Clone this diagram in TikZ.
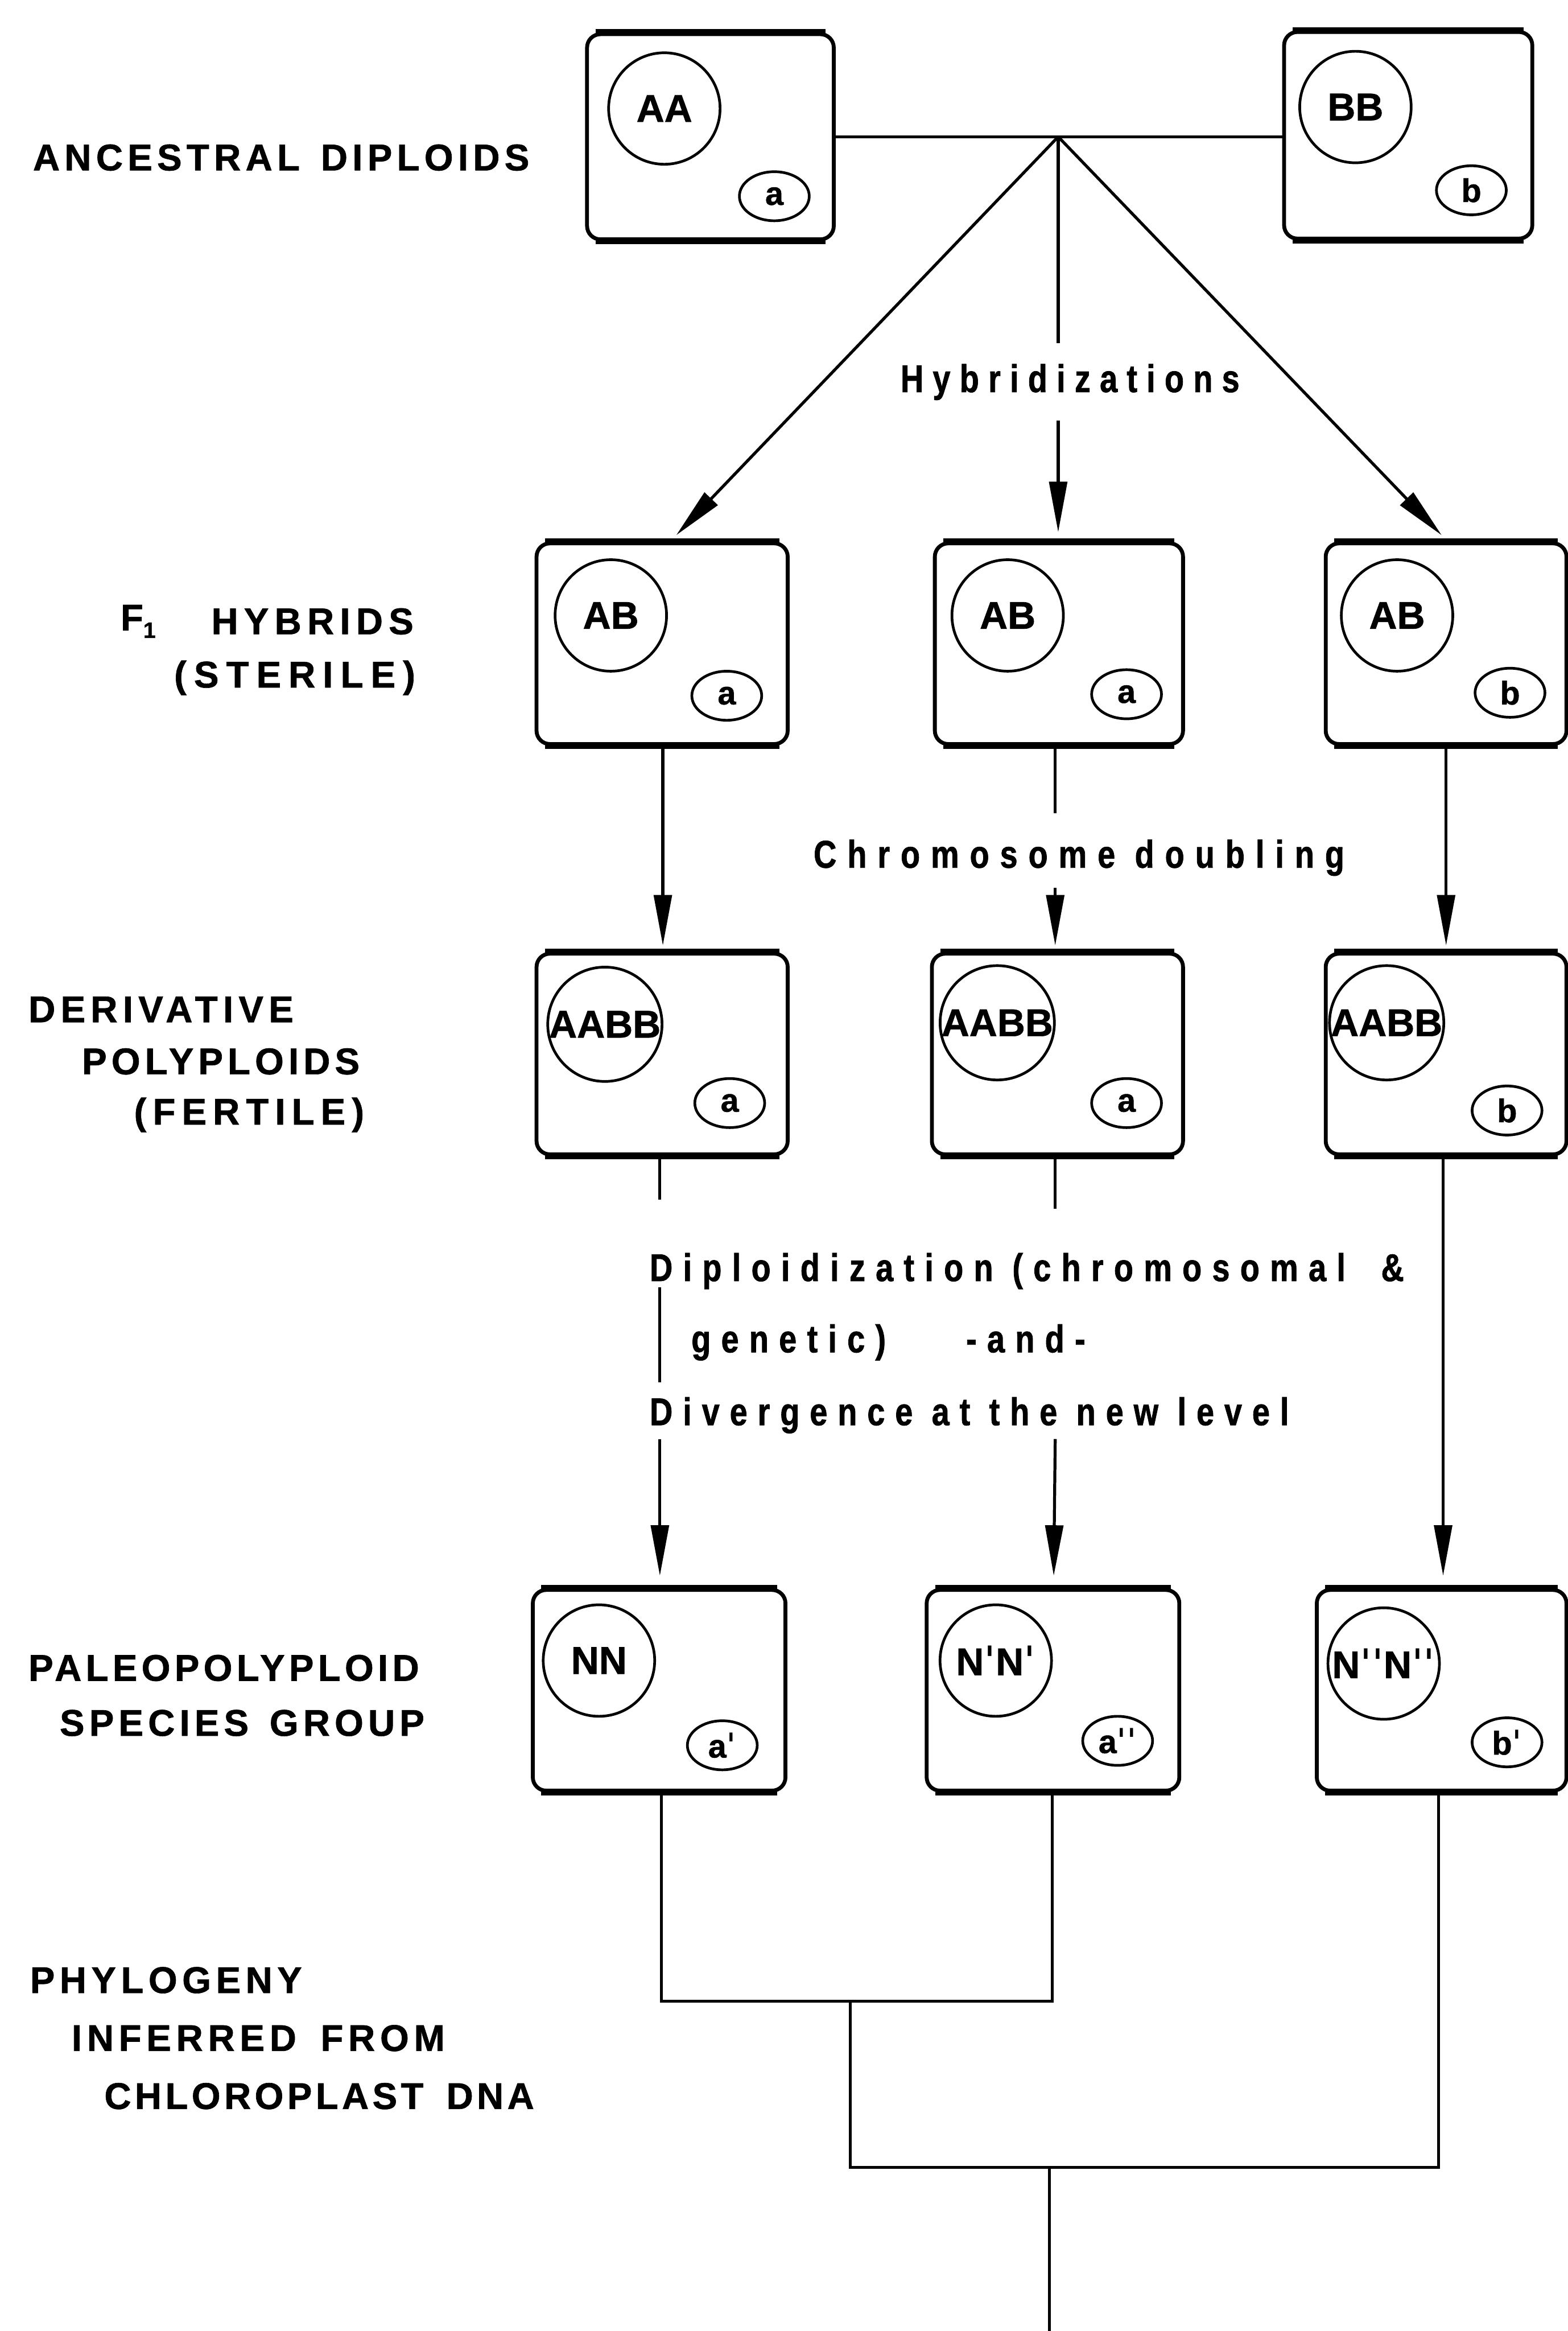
\documentclass[tikz,border=0pt]{standalone}
\usepackage{fontspec}
\setmainfont{Liberation Sans}
\newfontfamily\dvs{DejaVu Sans}
\usetikzlibrary{arrows.meta,shapes.geometric}
\newcommand\lab[2]{{\fontsize{25}{29}\selectfont\bfseries\addfontfeature{LetterSpace=#1,FakeBold=1}#2}}
\newcommand\proc[2]{{\fontsize{26}{30}\selectfont\bfseries\addfontfeature{FakeStretch=0.82,LetterSpace=#1,FakeBold=1.2}#2}}
\newcommand\boxtxt{\fontsize{26}{29}\selectfont\bfseries\addfontfeature{FakeBold=1}}
\newcommand\tagtxt{\fontsize{22}{24}\selectfont\bfseries\addfontfeature{FakeBold=1}}
\newcommand\pr{{\dvs\bfseries ˈ}}
\newcommand\ppr{{\dvs\bfseries ˈˈ}}
\begin{document}
\begin{tikzpicture}[x=1pt,y=-1pt,
  box/.style={draw,line width=2.6pt,rounded corners=9pt,inner sep=0pt,minimum height=135pt},
  bigc/.style={draw,circle,line width=1.8pt,minimum size=75pt,inner sep=0pt,font=\boxtxt},
  tagc/.style={draw,ellipse,line width=1.8pt,minimum width=47pt,minimum height=33pt,inner sep=0pt,font=\tagtxt},
  conn/.style={line width=2pt},
  arr/.style={line width=2pt,-{Triangle[length=34pt,width=12pt]}},
  lbl/.style={anchor=west,inner sep=0pt},
  ptx/.style={anchor=west,inner sep=0pt}]
\fill[white] (0,0) rectangle (1055,1568);
\path[use as bounding box] (0,0) rectangle (1055,1568);

% ---------- left labels
\node[lbl] (l1) at (22,106) {\lab{12.7}{ANCESTRAL\hspace{4pt} DIPLOIDS}};
\node[lbl] (l2a) at (81,418) {\lab{0}{F\raisebox{-5pt}{\fontsize{15}{15}\selectfont 1}}};
\node[lbl] (l2b) at (142,418) {\lab{15.7}{HYBRIDS}};
\node[lbl] (l2c) at (117,456) {\lab{20}{(STERILE)}};
\node[lbl] (l3a) at (19,679) {\lab{14.2}{DERIVATIVE}};
\node[lbl] (l3b) at (55,714) {\lab{12.4}{POLYPLOIDS}};
\node[lbl] (l3c) at (90,750) {\lab{17}{(FERTILE)}};
\node[lbl] (l4a) at (19,1122) {\lab{11.2}{PALEOPOLYPLOID}};
\node[lbl] (l4b) at (40,1159) {\lab{12.5}{SPECIES\hspace{4pt} GROUP}};
\node[lbl] (l5a) at (20,1332) {\lab{13}{PHYLOGENY}};
\node[lbl] (l5b) at (48,1371) {\lab{13.4}{INFERRED\hspace{6pt} FROM}};
\node[lbl] (l5c) at (70,1410) {\lab{9.8}{CHLOROPLAST\hspace{6pt} DNA}};

% ---------- row 1
\node[box,minimum width=166pt,minimum height=138pt] (A1) at (478,92) {};
\node[bigc] (A1c) at (447,73) {AA};
\node[tagc] (A1t) at (521,132) {a};
\node[box,minimum width=167pt,minimum height=139pt] (B1) at (947.5,91) {};
\node[bigc] (B1c) at (912,72) {BB};
\node[tagc] (B1t) at (990,128) {b};

% ---------- row 2
\node[box,minimum width=169pt] (F1) at (445.5,433) {};
\node[bigc] (F1c) at (411,414) {AB};
\node[tagc] (F1t) at (489,468) {a};
\node[box,minimum width=167pt] (F2) at (712.5,433) {};
\node[bigc] (F2c) at (678,414) {AB};
\node[tagc] (F2t) at (758,467) {a};
\node[box,minimum width=162pt] (F3) at (973,433) {};
\node[bigc] (F3c) at (940,414) {AB};
\node[tagc] (F3t) at (1016,466) {b};

% ---------- row 3
\node[box,minimum width=169pt] (D1) at (445.5,709) {};
\node[bigc] (D1c) at (407,689) {AABB};
\node[tagc] (D1t) at (491,742) {a};
\node[box,minimum width=169pt] (D2) at (711.5,709) {};
\node[bigc] (D2c) at (671,688) {AABB};
\node[tagc] (D2t) at (758,742) {a};
\node[box,minimum width=162pt] (D3) at (973,709) {};
\node[bigc] (D3c) at (933,688) {AABB};
\node[tagc] (D3t) at (1014,747) {b};

% ---------- row 4
\node[box,minimum width=170pt] (P1) at (443.5,1137) {};
\node[bigc] (P1c) at (403,1117) {NN};
\node[tagc] (P1t) at (486,1174) {a\pr};
\node[box,minimum width=170pt] (P2) at (708.5,1137) {};
\node[bigc] (P2c) at (670,1117) {N\pr N\pr};
\node[tagc] (P2t) at (752,1171) {a\ppr};
\node[box,minimum width=168pt] (P3) at (970,1137) {};
\node[bigc] (P3c) at (931,1119) {N\ppr N\ppr};
\node[tagc] (P3t) at (1014,1172) {b\pr};

% heavier top and bottom edges of the boxes
\foreach \b in {A1,B1,F1,F2,F3,D1,D2,D3,P1,P2,P3}{
  \draw[line width=4pt] ([xshift=7pt]\b.north west) -- ([xshift=-7pt]\b.north east);
  \draw[line width=4pt] ([xshift=7pt]\b.south west) -- ([xshift=-7pt]\b.south east);
}

% ---------- hybridizations
\coordinate (J) at (712,92);
\draw[conn] (A1.east |- J) -- (B1.west |- J);
\node (hyb) at (720,257) {\proc{24}{Hybridizations}};
\coordinate (h1) at (712,231);
\coordinate (h2) at (712,283);
\coordinate (t1) at (455,360);
\coordinate (t2) at (712,358);
\coordinate (t3) at (970,360);
\draw[arr] (J) -- (t1);
\draw[conn] (J) -- (h1);
\draw[arr] (h2) -- (t2);
\draw[arr] (J) -- (t3);

% ---------- chromosome doubling
\node (chd) at (726,577) {\proc{28}{Chromosome doubling}};
\coordinate (c1) at (446,636);
\coordinate (c2a) at (710,547);
\coordinate (c2b) at (710,597);
\coordinate (c2) at (710,636);
\coordinate (c3) at (973,636);
\draw[arr] (F1.south -| c1) -- (c1);
\draw[conn] (F2.south -| c2a) -- (c2a);
\draw[arr] (c2b) -- (c2);
\draw[arr] (F3.south -| c3) -- (c3);

% ---------- diploidization
\node[ptx] (dp1) at (437,855) {\proc{27}{Diploidization (chromosomal\hspace{24pt}\&}};
\node[ptx] (dp2) at (465,903) {\proc{27}{genetic)\hspace{54pt}-and-}};
\node[ptx] (dp3) at (437,952) {\proc{26.5}{Divergence at the new level}};
\coordinate (d1a) at (444,807);
\coordinate (d1b) at (444,866);
\coordinate (d1c) at (444,930);
\coordinate (d1d) at (444,968);
\coordinate (d1) at (444,1060);
\coordinate (d2a) at (710,813);
\coordinate (d2b) at (710,968);
\coordinate (d2) at (709,1060);
\coordinate (d3) at (971,1060);
\draw[conn] (D1.south -| d1a) -- (d1a);
\draw[conn] (d1b) -- (d1c);
\draw[arr] (d1d) -- (d1);
\draw[conn] (D2.south -| d2a) -- (d2a);
\draw[arr] (d2b) -- (d2);
\draw[arr] (D3.south -| d3) -- (d3);

% ---------- phylogeny tree
\coordinate (n1) at (445,1346);
\coordinate (n2) at (708,1346);
\coordinate (m1) at (572,1346);
\coordinate (m2) at (572,1458);
\coordinate (n3) at (968,1458);
\coordinate (r1) at (706,1458);
\coordinate (r2) at (706,1568);
\draw[conn] (P1.south -| n1) -- (n1) -- (n2) -- (P2.south -| n2);
\draw[conn] (m1) -- (m2) -- (n3) -- (P3.south -| n3);
\draw[conn] (r1) -- (r2);
\end{tikzpicture}
\end{document}
